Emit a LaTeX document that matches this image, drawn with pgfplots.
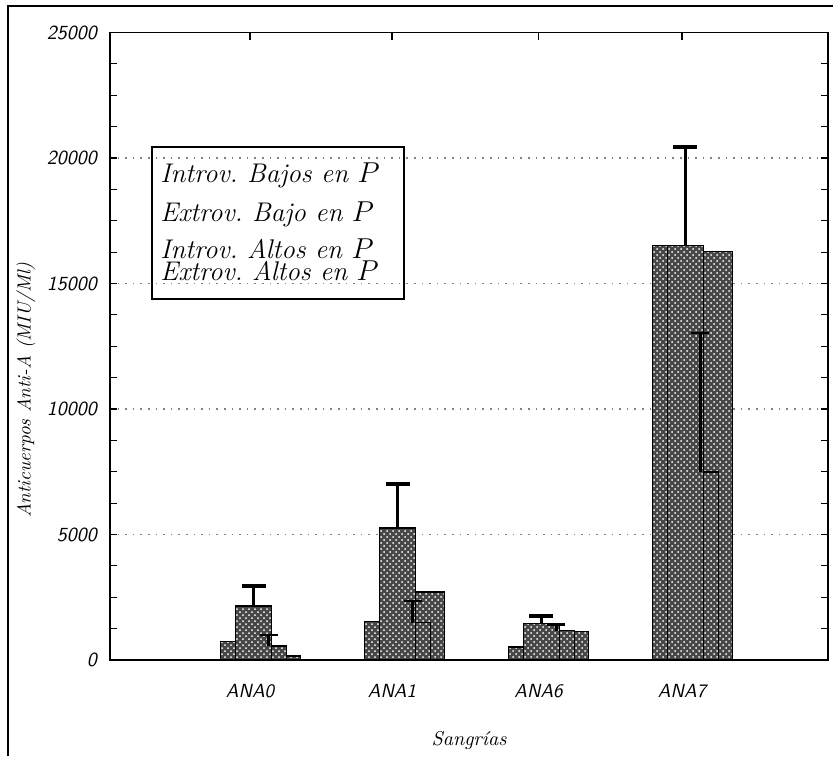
\documentclass[border=0pt]{standalone}
\usepackage{pgfplots}
\pgfplotsset{compat=1.18}
\usetikzlibrary{patterns}
\begin{document}
\begin{tikzpicture}
\useasboundingbox (0,0) rectangle (416.5pt,378pt);
\draw[line width=1pt] (4pt,0) -- (4pt,375pt) -- (416.5pt,375pt);
\begin{axis}[
  at={(55pt,48pt)}, anchor=south west,
  scale only axis, width=359pt, height=313.75pt,
  xmin=-0.77, xmax=4.223, ymin=0, ymax=25000,
  scaled y ticks=false,
  axis line style={line width=0.9pt},
  tick align=inside,
  xtick={0.204,1.191,2.21,3.208},
  xticklabels={ANA0,ANA1,ANA6,ANA7},
  xtick pos=right, xticklabel pos=left,
  ytick={0,5000,10000,15000,20000,25000},
  yticklabels={0,5000,10000,15000,20000,25000},
  minor y tick num=3,
  major tick length=3.5pt, minor tick length=3.5pt,
  every tick/.style={black, line width=0.6pt},
  yticklabel style={font=\sffamily\itshape\fontsize{10}{12}\selectfont, xshift=-3pt},
  xticklabel style={font=\sffamily\itshape\fontsize{9.5}{11}\selectfont, anchor=base, yshift=-18.5pt},
  ymajorgrids,
  major grid style={gray, dash pattern=on 0.8pt off 3pt, line width=0.6pt},
  xlabel={Sangr\'{\i}as},
  ylabel={Anticuerpos Anti-A (MIU/Ml)},
  every axis x label/.style={at={(axis description cs:0.5,-0.1275)}, anchor=center, font=\itshape\fontsize{10}{12}\selectfont},
  every axis y label/.style={at={(axis description cs:-0.117,0.43)}, rotate=90, anchor=center, font=\itshape\fontsize{9.5}{11}\selectfont},
  barsty/.style={ybar, bar width=0.25, bar shift=0pt, draw=black, line width=0.6pt, fill=black!72, postaction={pattern=crosshatch dots, pattern color=white}},
]
% Introv. Bajos en P
\addplot[barsty] coordinates {(0.125,750) (1.125,1550) (2.125,520) (3.125,16500)};
% Extrov. Altos en P
\addplot[barsty] coordinates {(0.431,160) (1.431,2710) (2.431,1150) (3.431,16270)};
% Introv. Altos en P
\addplot[barsty] coordinates {(0.334,560) (1.334,1480) (2.334,1160) (3.334,7490)};
% Extrov. Bajo en P
\addplot[barsty] coordinates {(0.2295,2150) (1.2295,5260) (2.2295,1470) (3.2295,16500)};
% error bars
\addplot[draw=none, no marks, forget plot,
  error bars/.cd, y dir=plus, y explicit,
  error bar style={draw=black, line width=1.6pt},
  error mark options={draw=black, rotate=90, mark size=6pt, line width=1.6pt}]
  coordinates {(0.2295,2150) +- (0,800) (1.2295,5260) +- (0,1750) (2.2295,1470) +- (0,280) (3.2295,16500) +- (0,3940)};
\addplot[draw=none, no marks, forget plot,
  error bars/.cd, y dir=plus, y explicit,
  error bar style={draw=black, line width=1.4pt},
  error mark options={draw=black, rotate=90, mark size=4.5pt, line width=1.4pt}]
  coordinates {(0.334,560) +- (0,440) (1.334,1480) +- (0,870) (2.334,1160) +- (0,270) (3.334,7490) +- (0,5540)};
\end{axis}
\draw[line width=0.9pt] (76pt,228.5pt) rectangle (202pt,304.5pt);
\begin{scope}[every node/.style={anchor=base west, inner sep=0pt, font=\itshape\fontsize{13.5}{15}\selectfont}]
\node at (80pt,286.5pt) {Introv.\ Bajos en $P$};
\node at (80pt,267pt) {Extrov.\ Bajo en $P$};
\node at (80pt,249pt) {Introv.\ Altos en $P$};
\node at (80pt,238pt) {Extrov.\ Altos en $P$};
\end{scope}
\end{tikzpicture}
\end{document}
